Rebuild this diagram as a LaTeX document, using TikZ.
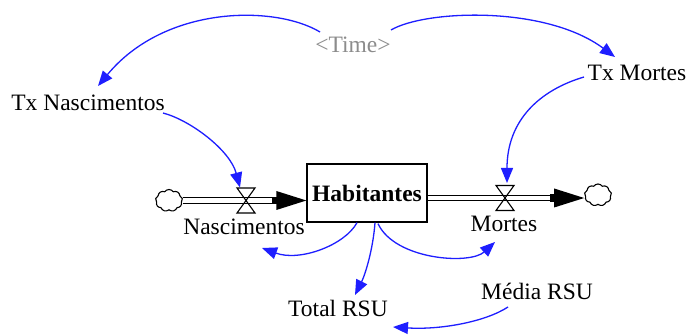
\documentclass[tikz,border=0pt]{standalone}
\usepackage{fontspec}
\setmainfont{Liberation Serif}
\newfontfamily\diagfont{Liberation Serif}
\usetikzlibrary{arrows.meta,shapes.symbols,calc}
\definecolor{linkblue}{RGB}{30,30,255}
\definecolor{timegray}{RGB}{140,140,140}
\tikzset{
  lbl/.style={inner sep=0pt, anchor=base, font=\diagfont\fontsize{23.5}{28}\selectfont},
  link/.style={draw=linkblue, line width=1.3pt, -{Triangle[length=15pt,width=12pt]}, fill=none},
  pipe/.style={draw=black, double=white, double distance=4.2pt, line width=1.2pt},
  cloudbox/.style={cloud, draw, cloud puffs=9, cloud puff arc=110, aspect=1.2, minimum width=27pt, minimum height=22pt, inner sep=0pt, line width=1.1pt},
  valve/.pic={\draw[line width=1.1pt] (-9,-12.5) -- (9,-12.5) -- (0,0) -- cycle;
              \draw[line width=1.1pt] (-9,12.5) -- (9,12.5) -- (0,0) -- cycle;},
}
\begin{document}
\begin{tikzpicture}[x=1pt,y=-1pt]
\useasboundingbox[fill=white] (0,0) rectangle (691,336);

% stock
\node[draw, line width=1.3pt, minimum width=120pt, minimum height=58pt, inner sep=0pt,
      font=\diagfont\fontsize{23.5}{28}\selectfont\bfseries] (hab) at (367,193) {Habitantes};

% clouds
\node[cloudbox] (cloudL) at (169,200.5) {};
\node[cloudbox] (cloudR) at (598,195) {};

% valves
\coordinate (vN) at (246,200.5);
\coordinate (vM) at (505,198);

% flow tips
\coordinate (tipN) at (hab.west |- vN);
\coordinate (tipM) at (cloudR.west |- vM);

% pipes
\draw[pipe] (cloudL.east |- vN) -- ([xshift=-28]tipN);
\draw[pipe] (hab.east |- vM) -- ([xshift=-28]tipM);
\fill ([shift={(-34,-3.8)}]tipN) rectangle ([shift={(-28,3.8)}]tipN);
\fill ([shift={(-30,-9.5)}]tipN) -- (tipN) -- ([shift={(-30,9.5)}]tipN) -- cycle;
\fill ([shift={(-34,-3.8)}]tipM) rectangle ([shift={(-28,3.8)}]tipM);
\fill ([shift={(-30,-9.5)}]tipM) -- (tipM) -- ([shift={(-30,9.5)}]tipM) -- cycle;
\pic at (vN) {valve};
\pic at (vM) {valve};

% labels
\node[lbl] (nasL) at (244,235) {Nascimentos};
\node[lbl] (morL) at (504,232) {Mortes};
\node[lbl] (txn) at (88,111) {Tx Nascimentos};
\node[lbl] (txm) at (637,81) {Tx Mortes};
\node[lbl, text=timegray] (time) at (353,53) {<Time>};
\node[lbl] (total) at (338,317) {Total RSU};
\node[lbl] (media) at (537,300) {Média RSU};

% links
\draw[link] ([shift={(-33,-21)}]time.base) .. controls (275,5) and (165,5) .. ([shift={(10,-25)}]txn.base);
\draw[link] ([shift={(38,-23)}]time.base) .. controls (425,10) and (545,5) .. ([shift={(-22,-24)}]txm.base);
\draw[link] ([shift={(75,2)}]txn.base) .. controls (190,120) and (230,150) .. ([shift={(-6,-13)}]vN);
\draw[link] ([shift={(-53,-4)}]txm.base) .. controls (540,90) and (507,120) .. ([shift={(2,-15)}]vM);
\draw[link] ([xshift=-10]hab.south) .. controls (345,245) and (300,262) .. ([shift={(18,13)}]nasL.base);
\draw[link] ([xshift=8]hab.south) .. controls (373,250) and (365,275) .. ([shift={(17,-22)}]total.base);
\draw[link] ([shift={(11,1)}]hab.south) .. controls (395,260) and (470,265) .. ([shift={(-9,10)}]morL.base);
\draw[link] ([shift={(-29,7)}]media.base) .. controls (485,322) and (440,330) .. ([shift={(55,10)}]total.base);
\end{tikzpicture}
\end{document}
